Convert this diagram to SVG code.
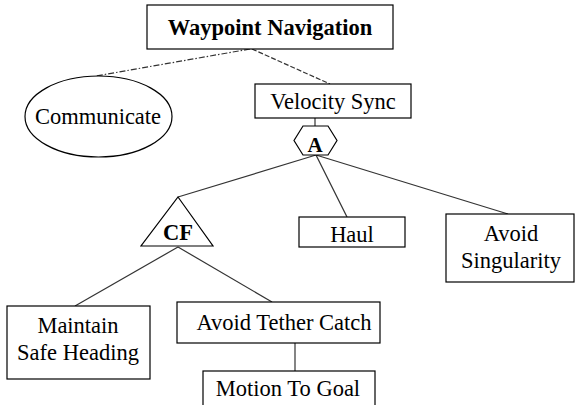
<svg xmlns="http://www.w3.org/2000/svg" width="576" height="405" viewBox="0 0 576 405">
<style>
.box{fill:#fff;stroke:#000;stroke-width:1.2}
.t{font-family:'Liberation Serif','Times New Roman',serif;font-size:22.5px;font-weight:normal;fill:#000;text-anchor:middle}
.b{font-weight:bold}
.ln{stroke:#333;stroke-width:1.2;fill:none}
</style>
<rect width="576" height="405" fill="#fff"/>
<g id="connectors">
<line class="ln" x1="250" y1="49" x2="96" y2="76" stroke-dasharray="6,2,1.5,2"/>
<line class="ln" x1="252" y1="49" x2="330" y2="84" stroke-dasharray="5,2"/>
<line class="ln" x1="315" y1="118" x2="315" y2="126"/>
<line class="ln" x1="316" y1="155" x2="178" y2="197"/>
<line class="ln" x1="316" y1="155" x2="347" y2="217"/>
<line class="ln" x1="316" y1="155" x2="508" y2="214"/>
<line class="ln" x1="178" y1="247" x2="75" y2="306"/>
<line class="ln" x1="178" y1="247" x2="272" y2="302"/>
<line class="ln" x1="295" y1="343" x2="295" y2="371"/>
</g>
<g id="waypoint-navigation">
<rect class="box" x="147" y="5" width="246" height="44"/>
<text class="t b" x="270" y="35">Waypoint Navigation</text>
</g>
<g id="communicate">
<ellipse class="box" cx="98.5" cy="116.5" rx="73.5" ry="40.5"/>
<text class="t" x="98" y="124">Communicate</text>
</g>
<g id="velocity-sync">
<rect class="box" x="255" y="84" width="156" height="34"/>
<text class="t" x="333" y="109">Velocity Sync</text>
</g>
<g id="and-A">
<polygon class="box" points="303,126 328,126 337,140.5 328,155 303,155 294,140.5"/>
<text class="t b" x="315" y="152" style="font-size:21px">A</text>
</g>
<g id="cf">
<polygon class="box" points="178,197 213,246 141,246"/>
<text class="t b" x="178" y="240">CF</text>
</g>
<g id="haul">
<rect class="box" x="299" y="217" width="106" height="30"/>
<text class="t" x="352" y="242">Haul</text>
</g>
<g id="avoid-singularity">
<rect class="box" x="446" y="214" width="128" height="68"/>
<text class="t" x="511" y="241">Avoid</text>
<text class="t" x="511" y="268">Singularity</text>
</g>
<g id="maintain-safe-heading">
<rect class="box" x="7" y="306" width="143" height="73"/>
<text class="t" x="78" y="333">Maintain</text>
<text class="t" x="78" y="360">Safe Heading</text>
</g>
<g id="avoid-tether-catch">
<rect class="box" x="177" y="302" width="203" height="41"/>
<text class="t" x="284" y="330">Avoid Tether Catch</text>
</g>
<g id="motion-to-goal">
<rect class="box" x="203" y="371" width="172" height="40"/>
<text class="t" x="288" y="396">Motion To Goal</text>
</g>
</svg>
